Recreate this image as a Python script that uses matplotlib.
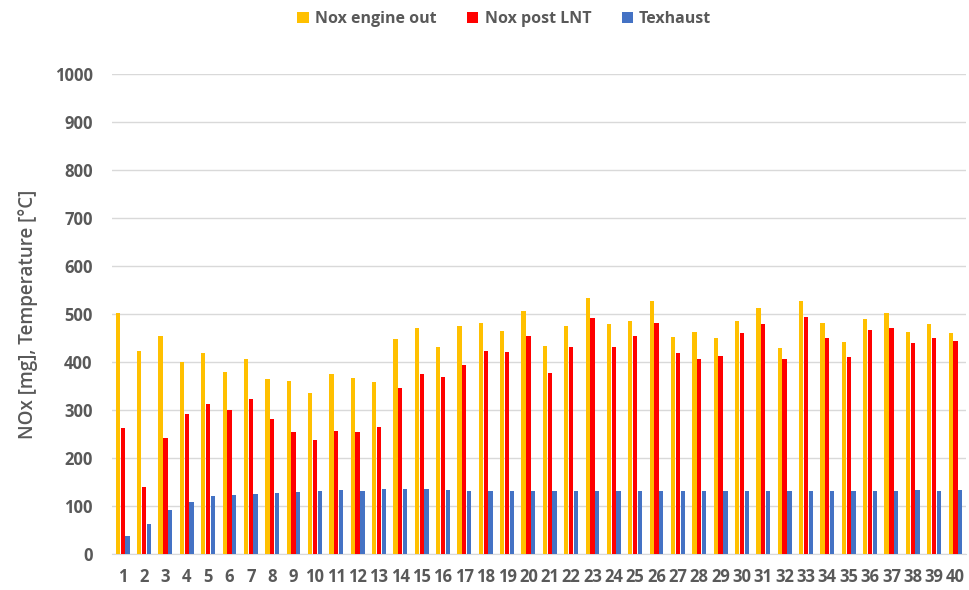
import numpy as np
import matplotlib
matplotlib.use("Agg")
import matplotlib.pyplot as plt

# measurement points 1..40
points = [str(i) for i in range(1, 41)]

nox_engine_out = [502, 424, 455, 401, 419, 379, 407, 365, 361, 336,
                  375, 366, 359, 449, 471, 431, 476, 481, 465, 507,
                  433, 475, 533, 479, 486, 528, 453, 463, 451, 485,
                  513, 430, 527, 481, 442, 489, 503, 462, 479, 461]

nox_post_lnt = [262, 139, 242, 292, 313, 301, 322, 282, 255, 237,
                257, 255, 265, 345, 376, 368, 394, 422, 421, 454,
                377, 431, 491, 431, 454, 482, 419, 407, 412, 460,
                480, 407, 494, 450, 411, 466, 471, 439, 450, 444]

t_exhaust = [37, 63, 92, 109, 120, 123, 125, 128, 129, 132,
             134, 132, 135, 135, 135, 134, 132, 132, 132, 132,
             132, 132, 132, 132, 132, 132, 132, 132, 132, 132,
             132, 132, 132, 132, 132, 132, 132, 134, 132, 134]

series = [
    ("Nox engine out", nox_engine_out, "#FFC000"),
    ("Nox post LNT", nox_post_lnt, "#FF0000"),
    ("Texhaust", t_exhaust, "#4472C4"),
]

plt.rcParams["font.family"] = ["Open Sans", "DejaVu Sans"]
text_grey = "#595959"

fig = plt.figure(figsize=(9.7, 5.9), dpi=100)
ax = fig.add_axes([0.1155, 0.061, 0.8805, 0.8135])

x = np.arange(1, len(points) + 1)
width = 0.2
step = 0.225
for i, (name, vals, color) in enumerate(series):
    ax.bar(x + (i - 1) * step, vals, width=width, color=color, label=name, zorder=3)

ax.set_xlim(0.5, len(points) + 0.5)
ax.set_ylim(0, 1000)
ax.set_yticks(range(0, 1001, 100))
ax.set_xticks(x)
ax.set_xticklabels(points)

ax.grid(axis="y", color="#D9D9D9", linewidth=1, zorder=0)
for side in ["top", "right", "left"]:
    ax.spines[side].set_visible(False)
ax.spines["bottom"].set_color("#D9D9D9")
ax.tick_params(axis="both", length=0, colors=text_grey, labelsize=12)
ax.tick_params(axis="y", pad=14)
ax.tick_params(axis="x", pad=10)
for lbl in ax.get_xticklabels() + ax.get_yticklabels():
    lbl.set_fontweight("bold")

ax.set_ylabel("NOx [mg], Temperature [°C]", fontsize=13.5, fontweight="semibold",
              color=text_grey, labelpad=12)

leg = fig.legend(loc="upper center", bbox_to_anchor=(0.52, 1.005), ncol=3, frameon=False,
                 handlelength=0.7, handleheight=0.7, handletextpad=0.4, columnspacing=1.9,
                 prop={"size": 11.5, "weight": "bold"})
for t in leg.get_texts():
    t.set_color(text_grey)

fig.savefig("out.png", dpi=100)
